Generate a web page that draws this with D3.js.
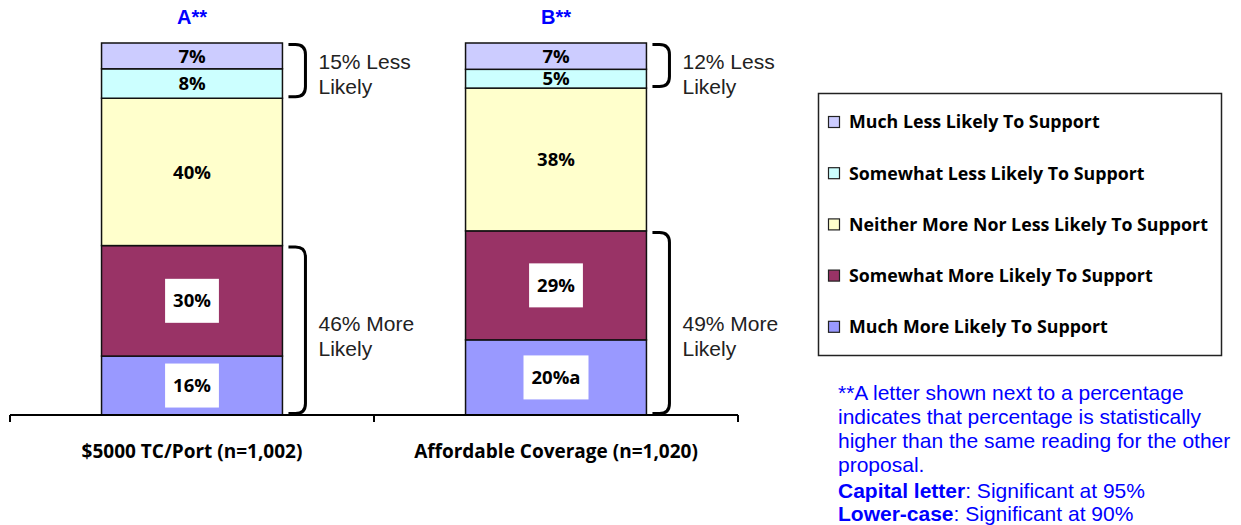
<!DOCTYPE html>
<html>
<head>
<meta charset="utf-8">
<script src="https://cdn.jsdelivr.net/npm/d3@7"></script>
<style>
  html, body { margin: 0; padding: 0; background: #fff; }
  svg { display: block; }
</style>
</head>
<body>
<svg width="1241" height="525"></svg>
<script>
// chart values
var categories = ['$5000 TC/Port (n=1,002)', 'Affordable Coverage (n=1,020)']
var headers = ['A**', 'B**']
var muchLess = [7, 7]
var somewhatLess = [8, 5]
var neither = [40, 38]
var somewhatMore = [30, 29]
var muchMore = [16, 20]
var muchMoreMarks = ['', 'a']

var seriesKeys = ['muchMore', 'somewhatMore', 'neither', 'somewhatLess', 'muchLess']
var seriesNames = {
  muchLess: 'Much Less Likely To Support',
  somewhatLess: 'Somewhat Less Likely To Support',
  neither: 'Neither More Nor Less Likely To Support',
  somewhatMore: 'Somewhat More Likely To Support',
  muchMore: 'Much More Likely To Support'
}
var colors = {
  muchLess: '#ccccff',
  somewhatLess: '#ccffff',
  neither: '#ffffcc',
  somewhatMore: '#993366',
  muchMore: '#9999ff'
}
var footnote = [
  '**A letter shown next to a percentage',
  'indicates that percentage is statistically',
  'higher than the same reading for the other',
  'proposal.'
]

var rows = categories.map(function(c, i) {
  return {
    category: c,
    header: headers[i],
    muchLess: muchLess[i],
    somewhatLess: somewhatLess[i],
    neither: neither[i],
    somewhatMore: somewhatMore[i],
    muchMore: muchMore[i],
    mark: muchMoreMarks[i]
  }
})

var svg = d3.select('svg')
var blue = '#0000ff'
var calibri = '"Open Sans", Lato, sans-serif'
var arial = '"Liberation Sans", Arial, sans-serif'

var x = d3.scaleBand().domain(categories).range([10, 738]).paddingInner(0.503).paddingOuter(0.2515)
var y = d3.scaleLinear().domain([0, 1]).range([415, 43])

var stack = d3.stack().keys(seriesKeys).offset(d3.stackOffsetExpand)
var layers = stack(rows)

// bars
var layer = svg.selectAll('.layer')
  .data(layers)
  .enter().append('g')
    .attr('class', 'layer')
    .attr('fill', function(d) { return colors[d.key] })

layer.selectAll('rect')
  .data(function(d) { return d })
  .enter().append('rect')
    .attr('x', function(d) { return x(d.data.category) })
    .attr('y', function(d) { return y(d[1]) })
    .attr('width', x.bandwidth())
    .attr('height', function(d) { return y(d[0]) - y(d[1]) })
    .attr('stroke', '#111')
    .attr('stroke-width', 1.5)

// segment labels
layers.forEach(function(l) {
  var boxed = l.key === 'somewhatMore' || l.key === 'muchMore'
  l.forEach(function(d) {
    var cx = x(d.data.category) + x.bandwidth() / 2
    var cy = (y(d[0]) + y(d[1])) / 2
    var txt = d.data[l.key] + '%' + (l.key === 'muchMore' ? d.data.mark : '')
    var g = svg.append('g')
    var t = g.append('text')
      .attr('x', cx)
      .attr('y', cy)
      .attr('text-anchor', 'middle')
      .attr('dy', '0.36em')
      .style('font-family', calibri)
      .style('font-weight', 'bold')
      .style('font-size', '18.5px')
      .attr('fill', '#000')
      .text(txt)
    if (boxed) {
      var w = t.node().getComputedTextLength()
      g.insert('rect', 'text')
        .attr('x', cx - w / 2 - 8)
        .attr('y', cy - 22)
        .attr('width', w + 16)
        .attr('height', 44)
        .attr('fill', '#fff')
    }
  })
})

// axis
var axis = svg.append('g').attr('transform', 'translate(0,415)')
axis.append('line')
  .attr('x1', 10).attr('x2', 738)
  .attr('stroke', '#000').attr('stroke-width', 2)
var tickXs = [10].concat(categories.map(function(c, i) { return 10 + x.step() * (i + 1) }))
axis.selectAll('.tick')
  .data(tickXs)
  .enter().append('line')
    .attr('x1', function(d) { return d }).attr('x2', function(d) { return d })
    .attr('y1', 0).attr('y2', 7)
    .attr('stroke', '#000').attr('stroke-width', 2)

svg.selectAll('.cat')
  .data(categories)
  .enter().append('text')
    .attr('x', function(d) { return x(d) + x.bandwidth() / 2 })
    .attr('y', 451)
    .attr('dy', '0.36em')
    .attr('text-anchor', 'middle')
    .style('font-family', calibri)
    .style('font-weight', 'bold')
    .style('font-size', '19px')
    .text(function(d) { return d })

svg.selectAll('.head')
  .data(rows)
  .enter().append('text')
    .attr('x', function(d) { return x(d.category) + x.bandwidth() / 2 })
    .attr('y', 17)
    .attr('dy', '0.36em')
    .attr('text-anchor', 'middle')
    .style('font-family', arial)
    .style('font-weight', 'bold')
    .style('font-size', '20px')
    .attr('fill', blue)
    .text(function(d) { return d.header })

// brackets
function bracket(x0, y0, y1) {
  var x1 = x0 + 17, r = 10
  return 'M' + x0 + ',' + y0 + 'H' + (x1 - r) +
    'Q' + x1 + ',' + y0 + ' ' + x1 + ',' + (y0 + r) +
    'V' + (y1 - r) +
    'Q' + x1 + ',' + y1 + ' ' + (x1 - r) + ',' + y1 +
    'H' + x0
}

// text rows of the bracket labels sit at the same height for both bars
var groups = [
  { keys: ['somewhatLess', 'muchLess'], word: 'Less', lo: 3, hi: 4, labelY: 61 },
  { keys: ['muchMore', 'somewhatMore'], word: 'More', lo: 0, hi: 1, labelY: 323 }
]

rows.forEach(function(row, i) {
  var bx = x(row.category) + x.bandwidth() + 6
  groups.forEach(function(gr) {
    var top = y(layers[gr.hi][i][1]) + 1.5
    var bot = y(layers[gr.lo][i][0]) - 1.5
    var total = d3.sum(gr.keys, function(k) { return row[k] })
    svg.append('path')
      .attr('d', bracket(bx, top, bot))
      .attr('fill', 'none')
      .attr('stroke', '#000')
      .attr('stroke-width', 3)
    var t = svg.append('text')
      .attr('x', bx + 30)
      .attr('y', gr.labelY)
      .style('font-family', arial)
      .style('font-size', '21px')
      .attr('fill', '#222')
    t.append('tspan').attr('x', bx + 30).attr('dy', '0.36em').text(total + '% ' + gr.word)
    t.append('tspan').attr('x', bx + 30).attr('dy', '1.19em').text('Likely')
  })
})

// legend
var legend = svg.append('g')
legend.append('rect')
  .attr('x', 818.5).attr('y', 93.5)
  .attr('width', 403).attr('height', 262)
  .attr('fill', '#fff')
  .attr('stroke', '#222').attr('stroke-width', 1.5)

var legendKeys = seriesKeys.slice().reverse()
var item = legend.selectAll('.item')
  .data(legendKeys)
  .enter().append('g')
    .attr('transform', function(d, i) { return 'translate(828,' + (122 + i * 51.2) + ')' })
item.append('rect')
  .attr('x', 0.5).attr('y', -5.5)
  .attr('width', 11).attr('height', 11)
  .attr('fill', function(d) { return colors[d] })
  .attr('stroke', '#222').attr('stroke-width', 1.2)
item.append('text')
  .attr('x', 21)
  .attr('dy', '0.36em')
  .style('font-family', calibri)
  .style('font-weight', 'bold')
  .style('font-size', '17.8px')
  .text(function(d) { return seriesNames[d] })

// footnote
var note = svg.append('text')
  .style('font-family', arial)
  .style('font-size', '21px')
  .attr('fill', blue)
footnote.forEach(function(line, i) {
  note.append('tspan').attr('x', 838).attr('y', 392 + i * 24.3).attr('dy', '0.36em').text(line)
})
var l5 = note.append('tspan').attr('x', 838).attr('y', 490).attr('dy', '0.36em')
l5.append('tspan').style('font-weight', 'bold').text('Capital letter')
l5.append('tspan').text(': Significant at 95%')
var l6 = note.append('tspan').attr('x', 838).attr('y', 513).attr('dy', '0.36em')
l6.append('tspan').style('font-weight', 'bold').text('Lower-case')
l6.append('tspan').text(': Significant at 90%')
</script>
</body>
</html>
